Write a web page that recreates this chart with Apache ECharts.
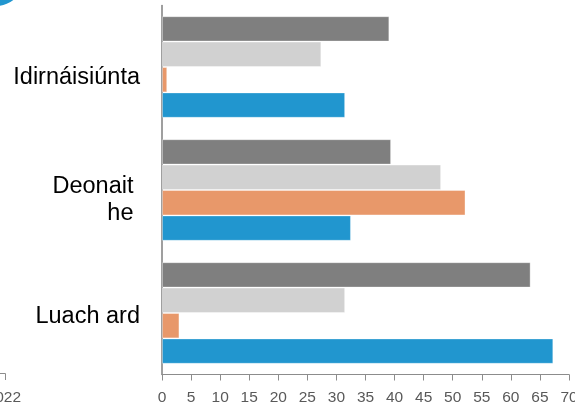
<!DOCTYPE html>
<html>
<head>
<meta charset="utf-8">
<script src="https://cdn.jsdelivr.net/npm/echarts@6/dist/echarts.min.js"></script>
<style>
html,body{margin:0;padding:0;background:#fff;}
#chart{width:575px;height:407px;}
</style>
</head>
<body>
<div id="chart"></div>
<script>
// Categories, top to bottom
const categories = ['Idirnáisiúnta', 'Deonait \nhe ', 'Luach ard'];
// Series values (top bar to bottom bar within each group)
const seriesNames = ['Sraith 1', 'Sraith 2', 'Sraith 3', 'Sraith 4'];
const valuesDarkGray  = [39.1, 39.4, 63.4];
const valuesLightGray = [27.4, 48.0, 31.5];
const valuesOrange    = [0.9, 52.2, 3.0];
const valuesBlue      = [31.5, 32.5, 67.3];
const seriesColors = ['#7f7f7f', '#d1d1d1', '#e8986a', '#2196cf'];
const xTicks = { min: 0, max: 70, interval: 5 };

// label vertical nudges (style only)
const labelPadTop = [22, 20, 8];

const allValues = [valuesDarkGray, valuesLightGray, valuesOrange, valuesBlue];

const richStyles = {};
labelPadTop.forEach((p, i) => { richStyles['s' + i] = { lineHeight: 27, padding: [p, 0, 0, 0] }; });

const chart = echarts.init(document.getElementById('chart'), null, { renderer: 'canvas' });
chart.setOption({
  animation: false,
  backgroundColor: '#ffffff',
  grid: { left: 162, right: 6, top: 5.5, bottom: 32.5, containLabel: false, outerBoundsMode: 'none' },
  xAxis: {
    type: 'value',
    min: xTicks.min, max: xTicks.max, interval: xTicks.interval,
    axisLine: { show: true, lineStyle: { color: '#8c8c8c', width: 1 } },
    axisTick: { show: true, length: 6, lineStyle: { color: '#8c8c8c' } },
    splitLine: { show: false },
    axisLabel: { color: '#595959', fontSize: 15.5, fontFamily: 'Liberation Sans, Arial, sans-serif', margin: 15, hideOverlap: false }
  },
  yAxis: {
    type: 'category',
    inverse: true,
    data: categories,
    axisLine: { show: true, lineStyle: { color: '#7f7f7f', width: 1.5 } },
    axisTick: { show: false },
    axisLabel: {
      color: '#000000',
      fontSize: 23.5,
      fontFamily: 'Liberation Sans, Arial, sans-serif',
      margin: 22,
      align: 'right',
      lineHeight: 27,
      formatter: (val, idx) => val.split('\n').map(l => '{s' + idx + '|' + l + '}').join('\n'),
      rich: richStyles
    }
  },
  series: allValues.map((vals, i) => ({
    name: seriesNames[i],
    type: 'bar',
    data: vals,
    barGap: '0%',
    barCategoryGap: '17.4%',
    itemStyle: { color: seriesColors[i], borderColor: 'rgba(255,255,255,0.35)', borderWidth: 1 }
  })),
  graphic: [
    { type: 'circle', shape: { cx: -4, cy: -22, r: 28 }, style: { fill: '#2196cf' } },
    { type: 'polyline', shape: { points: [[0, 373.5], [5.5, 373.5], [5.5, 380]] }, style: { stroke: '#8c8c8c', lineWidth: 1, fill: null } },
    { type: 'text', style: { text: '2022', x: 21, y: 398, align: 'right', verticalAlign: 'middle', fill: '#595959', font: '15.5px "Liberation Sans", Arial, sans-serif' } }
  ]
});
</script>
</body>
</html>
